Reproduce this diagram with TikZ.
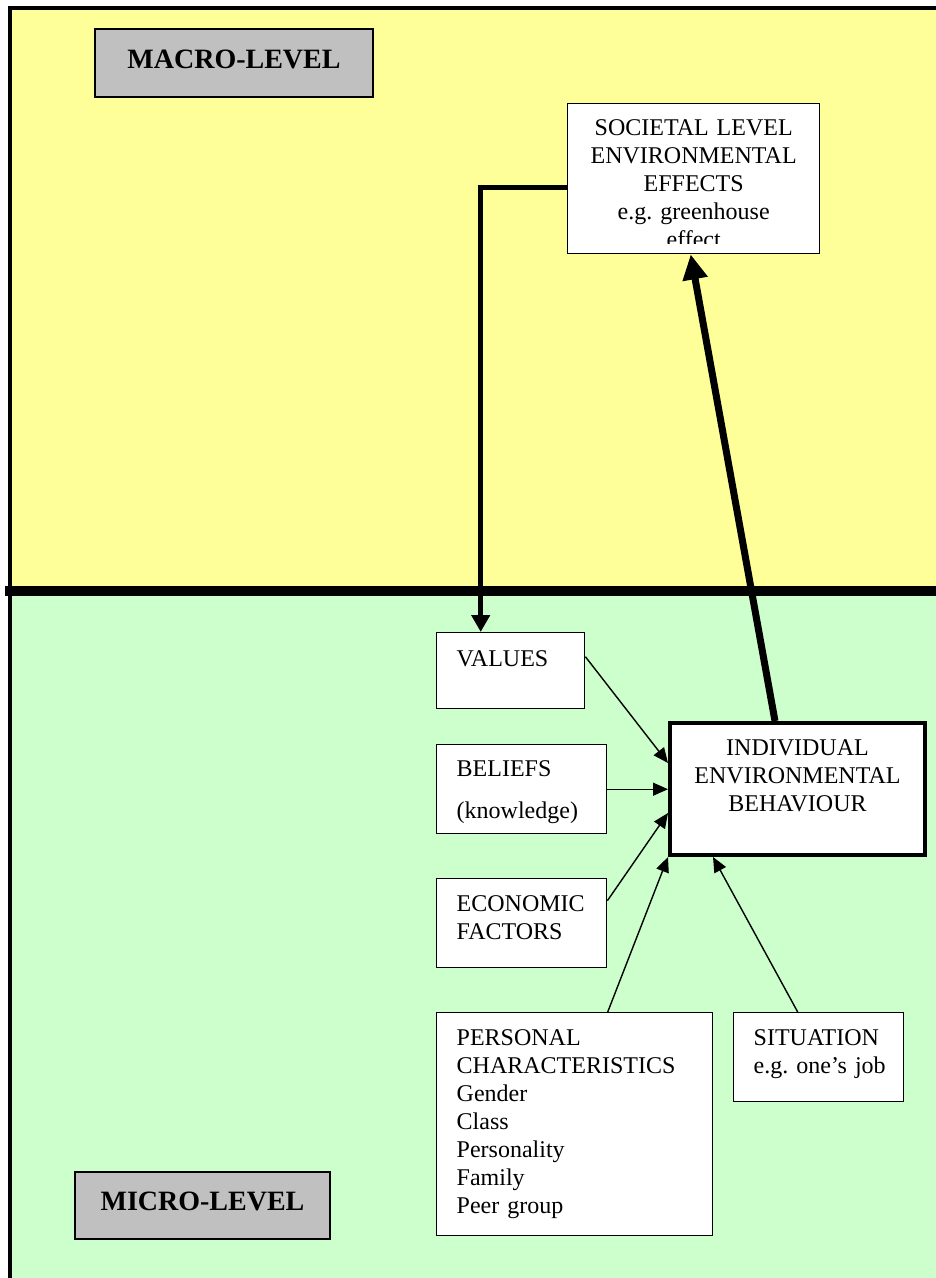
\documentclass[tikz,border=0pt]{standalone}
\usepackage{fontspec}
\setmainfont{Liberation Serif}
\usetikzlibrary{positioning,arrows.meta}

\definecolor{macroyellow}{HTML}{FFFF99}
\definecolor{microgreen}{HTML}{CCFFCC}
\definecolor{levelgrey}{HTML}{C0C0C0}

\begin{document}
\begin{tikzpicture}[x=1pt, y=-1pt,
  every node/.style={inner sep=0pt, font=\fontsize{24}{28}\selectfont\frenchspacing},
  levelbox/.style={draw, line width=1.4pt, fill=levelgrey, anchor=base,
    font=\fontsize{28}{32}\selectfont\bfseries},
  factorbox/.style={draw, line width=1.4pt, fill=white, anchor=north west,
    align=left, inner xsep=20pt},
  thinarrow/.style={line width=1.4pt, -{Triangle[length=15pt,width=13pt]}}]
  \useasboundingbox (0,0) rectangle (936,1278);

  % Background
  \fill[macroyellow] (12,10) rectangle (936,591);
  \fill[microgreen] (12,591) rectangle (936,1278);
  \draw[line width=4pt] (10,1278) -- (10,8) -- (936,8);
  \draw[line width=10pt] (5,591) -- (936,591);

  % Level labels
  \node[levelbox, minimum width=278pt, text height=39pt, text depth=29pt]
    (macro) at (234,68) {MACRO-LEVEL};
  \node[levelbox, minimum width=255pt, text height=38pt, text depth=29pt]
    (micro) at (202.5,1210) {MICRO-LEVEL};

  % Societal effects (last line cut off by the box)
  \node[factorbox, align=center, inner xsep=6pt, text width=240pt,
    text height=32pt, text depth=118pt] (soc) at (567,103)
    {SOCIETAL LEVEL\\ENVIRONMENTAL\\EFFECTS\\e.g. greenhouse\\effect};
  \fill[white] ([xshift=1pt,yshift=1.5pt]soc.south west)
    rectangle ([xshift=-1pt,yshift=10pt]soc.south east);

  % Behaviour
  \node[draw, line width=4pt, fill=white, anchor=north west, align=center,
    inner xsep=5pt, text width=245pt, text height=32pt, text depth=100pt]
    (indiv) at (668,721) {INDIVIDUAL\\ENVIRONMENTAL\\BEHAVIOUR};

  % Factors
  \node[factorbox, text width=108pt, text height=34pt, text depth=42pt]
    (values) at (436,632) {VALUES};
  \node[factorbox, text width=130pt, text height=32pt, text depth=57pt]
    (beliefs) at (436,744) {BELIEFS\\[14pt](knowledge)};
  \node[factorbox, text width=130pt, text height=33pt, text depth=56pt]
    (econ) at (436,878) {ECONOMIC\\FACTORS};
  \node[factorbox, text width=236pt, text height=33pt, text depth=190pt]
    (personal) at (436,1012)
    {PERSONAL\\CHARACTERISTICS\\Gender\\Class\\Personality\\Family\\Peer group};
  \node[factorbox, text width=130pt, text height=33pt, text depth=56pt]
    (situation) at (733,1012) {SITUATION\\e.g.~one’s~job};

  % Feedback and effect
  \draw[line width=5pt, -{Triangle[length=17pt,width=18pt]}]
    ([yshift=-9pt]soc.west) -| ([xshift=-30pt]values.north);
  \draw[line width=7pt, -{Triangle[length=25pt,width=24pt]}]
    ([xshift=-22.5pt]indiv.north) -- ([xshift=-3pt]soc.south);

  % Influences on behaviour
  \draw[thinarrow] ([yshift=14pt]values.east) -- ([yshift=26pt]indiv.west);
  \draw[thinarrow] (beliefs.east) -- (beliefs.east -| indiv.west);
  \draw[thinarrow] ([yshift=22.5pt]econ.east) -- ([yshift=-24pt]indiv.west);
  \draw[thinarrow] ([xshift=33pt]personal.north) -- (indiv.south west);
  \draw[thinarrow] ([xshift=-21pt]situation.north) -- ([xshift=-84.5pt]indiv.south);
\end{tikzpicture}
\end{document}
